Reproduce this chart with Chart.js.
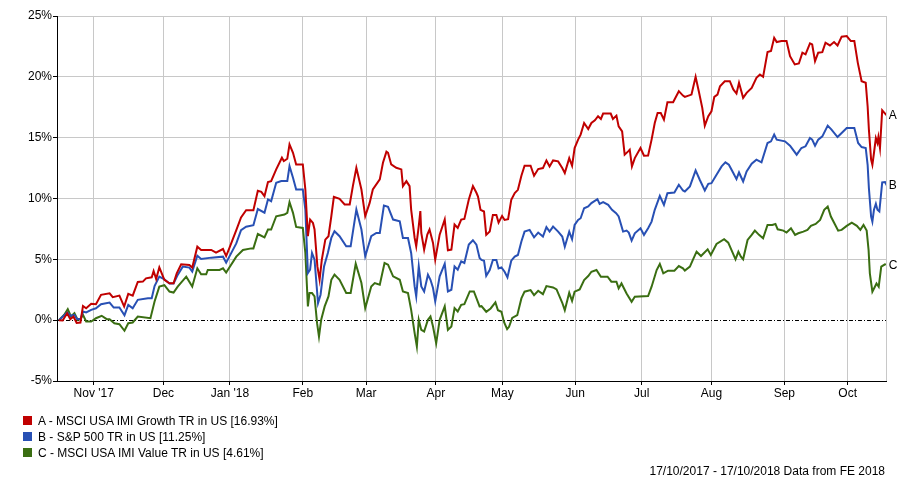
<!DOCTYPE html>
<html>
<head>
<meta charset="utf-8">
<script src="https://cdn.jsdelivr.net/npm/chart.js@4.4.1/dist/chart.umd.min.js"></script>
<style>
  body { margin: 0; background: #fff; }
  #wrap { position: relative; width: 903px; height: 484px; font-family: "Liberation Sans", Arial, sans-serif; font-size: 12px; color: #000; }
  #chart { position: absolute; left: 0; top: 0; }
  .sw { position: absolute; left: 23px; width: 9px; height: 9px; }
  .lt { position: absolute; left: 38px; line-height: 14px; white-space: nowrap; }
  #foot { position: absolute; right: 18px; top: 464px; line-height: 14px; white-space: nowrap; }
</style>
</head>
<body>
<div id="wrap">
  <canvas id="chart" width="903" height="484"></canvas>
  <div id="legend"></div>
  <div id="foot">17/10/2017 - 17/10/2018 Data from FE 2018</div>
</div>
<script>
// x = trading day since 17/10/2017, y = cumulative total return in %
const monthDays = [11, 33, 54, 77, 97, 119, 140, 163, 184, 206, 229, 249];
const monthLabels = ["Nov '17", 'Dec', "Jan '18", 'Feb', 'Mar', 'Apr', 'May', 'Jun', 'Jul', 'Aug', 'Sep', 'Oct'];
const yTicks = [-5, 0, 5, 10, 15, 20, 25];

const seriesNames = ['A - MSCI USA IMI Growth TR in US [16.93%]', 'B - S&P 500 TR in US [11.25%]', 'C - MSCI USA IMI Value TR in US [4.61%]'];
const endLetters = ['A', 'B', 'C'];
const seriesColors = ['#c00000', '#2850b4', '#3a6e12'];

const growthDay = [0,1.2,2.6,3.6,4.6,5.6,6.8,7.6,8.6,10.2,
  11.7,13.3,16.0,17.0,19.1,20.6,21.9,23.3,24.9,26.5,
  27.5,29.3,29.9,30.7,31.7,33.3,34.9,36.2,37.2,38.6,
  41.2,42.1,43.7,44.9,48.1,49.6,51.8,52.8,53.9,56.0,
  57.5,59.1,61.4,62.8,63.9,64.9,66.0,67.0,68.6,70.4,
  71.0,72.1,72.8,73.9,74.9,77.0,77.8,78.6,79.3,80.2,
  80.7,81.6,82.3,83.0,84.1,85.1,86.0,86.8,88.6,90.2,
  91.8,92.8,93.9,95.5,96.7,98.1,99.1,101.3,102.3,103.4,
  103.9,104.9,106.5,108.1,108.6,109.7,110.7,111.2,112.3,112.8,
  113.6,114.1,114.4,115.3,116.3,117.0,118.1,118.8,120.2,121.8,
  122.8,123.9,124.9,125.9,127.0,128.0,129.4,130.7,131.8,132.3,
  133.1,134.2,134.9,136.0,137.0,138.1,138.8,139.9,140.7,141.8,
  142.8,143.9,144.9,146.0,147.0,148.9,150.0,151.3,152.8,153.9,
  154.9,156.0,157.6,158.9,159.7,161.1,162.0,162.8,163.9,164.7,
  165.8,167.1,168.1,169.2,170.2,171.1,171.8,174.2,174.9,176.0,
  176.7,177.8,178.6,179.7,180.2,180.9,181.8,183.6,184.7,186.0,
  187.1,188.1,189.0,190.0,191.0,192.1,193.9,195.7,197.0,197.6,
  199.7,201.0,202.0,203.1,203.9,205.0,206.0,206.9,207.9,208.7,
  210.2,211.8,212.9,213.9,214.7,216.0,217.1,218.7,220.2,221.3,
  222.3,223.7,224.8,225.8,226.6,228.1,229.7,230.8,232.3,233.6,
  234.7,235.7,237.1,237.8,238.7,239.7,241.0,242.0,243.4,244.7,
  245.8,247.1,248.7,250.0,251.1,252.2,253.4,254.7,255.3,255.7,
  256.4,256.8,257.3,257.9,258.4,258.7,259.2,259.9,260.8,261];
const growthPct = [0,-0.03,0.57,0.08,0.30,-0.22,-0.19,1.17,0.98,1.34,
  1.31,2.08,2.21,1.89,2.02,1.12,2.16,2.02,3.14,3.17,
  3.44,3.52,4.04,3.39,4.34,3.31,3.03,3.03,3.85,4.59,
  4.54,4.32,6.04,5.77,5.77,5.55,5.85,5.27,5.98,7.40,
  8.44,9.04,9.04,10.63,10.55,10.19,11.35,11.43,12.39,13.35,
  13.08,13.27,14.45,13.76,12.80,12.80,10.74,6.90,8.27,7.99,
  7.45,4.42,3.32,4.97,6.62,6.90,8.54,10.14,9.97,9.51,
  9.51,11.02,12.53,10.74,8.54,9.64,10.74,11.57,12.94,13.85,
  13.76,12.80,12.53,12.39,11.02,11.43,11.02,9.09,6.76,6.07,
  7.72,8.96,7.17,5.80,7.03,7.45,6.35,4.97,7.03,8.27,
  5.74,5.80,7.86,7.58,8.27,8.32,9.92,11.02,10.47,10.16,
  9.07,8.93,7.01,7.28,8.65,8.65,8.02,8.57,8.24,8.30,
  9.89,10.44,10.71,11.87,12.69,12.69,11.87,12.42,12.50,13.13,
  12.64,13.13,13.05,12.50,12.09,13.32,12.69,14.15,14.84,15.25,
  16.21,15.71,16.21,16.43,16.76,16.54,16.98,16.98,16.54,16.81,
  15.93,15.52,13.60,13.87,14.01,12.64,13.32,14.15,13.52,13.54,
  14.84,16.21,17.03,17.03,16.48,17.91,17.91,18.82,18.46,18.35,
  18.54,20.00,18.82,17.45,15.99,16.76,17.17,18.35,18.54,19.23,
  19.64,19.64,18.96,18.63,19.51,18.27,18.68,19.09,19.92,20.19,
  20.00,22.03,22.12,23.21,22.86,22.94,22.94,21.70,21.02,21.10,
  21.98,21.84,22.75,22.66,21.29,21.98,22.03,22.80,22.58,22.86,
  22.58,23.30,23.35,22.94,22.94,21.15,19.64,19.51,17.58,15.66,
  13.19,12.77,13.74,14.97,14.56,15.05,14.15,17.25,16.98,16.93];

const sp500Day = [0,2.6,3.8,4.9,5.7,6.8,7.6,8.6,10.2,11.7,
  13.3,16.0,17.3,19.1,20.7,21.9,23.3,24.9,28.1,29.3,
  30.2,31.7,33.3,34.9,36.2,37.5,39.1,41.2,42.1,43.7,
  44.9,48.1,51.8,52.8,56.0,57.5,59.1,61.4,62.8,64.9,
  66.0,67.0,68.6,70.2,72.1,72.8,73.9,74.9,77.0,77.8,
  78.6,79.3,79.9,80.7,81.8,82.6,83.7,84.9,86.0,87.0,
  88.6,90.7,92.1,93.9,95.5,96.7,98.6,100.2,101.3,102.6,
  103.9,105.5,107.6,108.6,110.2,111.2,112.3,112.8,113.6,114.4,
  115.3,116.5,117.3,118.1,118.8,120.2,121.8,122.8,123.9,124.9,
  125.9,127.0,128.0,129.4,130.7,131.8,132.8,133.4,134.2,134.9,
  136.0,137.0,138.1,138.8,139.7,140.7,141.6,142.8,143.9,144.9,
  146.0,147.0,148.6,150.0,151.3,152.8,153.9,154.9,156.0,157.6,
  158.9,159.7,161.1,162.0,162.8,163.9,164.7,165.8,167.1,168.1,
  170.0,170.7,171.8,173.4,174.6,175.9,176.7,178.1,179.2,179.9,
  180.8,181.8,183.6,184.7,186.0,187.1,188.1,189.7,191.0,192.1,
  194.3,195.7,197.0,197.6,199.2,201.0,202.3,203.9,205.0,206.0,
  207.6,209.2,210.4,211.5,212.9,213.9,214.7,216.0,217.1,218.7,
  220.2,221.8,223.7,224.8,225.8,226.6,229.2,230.8,232.9,234.4,
  235.7,237.1,237.8,238.7,239.7,241.0,242.7,243.9,245.8,247.1,
  248.7,251.1,252.3,253.4,254.7,255.3,255.7,256.4,256.8,257.3,
  257.9,258.4,259.0,259.9,260.8,261];
const sp500Pct = [0,0.63,0.36,0.44,0.11,0.08,0.71,0.63,0.85,0.98,
  1.31,1.45,1.04,1.04,0.41,1.26,0.98,1.67,1.80,1.80,
  2.81,3.58,3.36,3.01,3.01,3.72,4.40,4.32,3.99,5.30,
  5.03,5.14,5.22,4.73,6.31,7.40,7.68,7.81,9.13,8.83,
  9.92,9.78,11.29,11.43,11.43,12.66,11.70,10.74,10.74,9.09,
  3.87,4.15,5.52,4.97,1.40,2.09,4.42,5.52,6.76,7.31,
  6.90,6.07,6.07,9.09,7.45,5.25,6.90,7.17,7.17,9.42,
  9.31,8.27,8.13,6.76,6.76,5.52,2.77,1.95,4.42,2.77,
  2.36,3.74,3.32,2.64,1.54,3.60,4.64,2.36,2.50,4.42,
  4.15,4.84,4.70,6.21,6.57,6.21,5.11,4.95,4.89,3.65,
  4.12,4.95,4.95,4.26,4.34,3.98,3.52,4.89,5.22,5.36,
  6.46,7.28,7.42,6.81,7.20,6.87,7.64,7.28,7.69,7.28,
  6.87,6.04,7.28,6.65,7.83,8.24,8.38,9.20,9.34,9.62,
  9.95,9.56,9.70,9.48,9.07,8.79,8.52,7.28,7.36,7.20,
  6.54,7.14,7.55,7.01,7.55,8.10,9.07,10.22,9.48,10.44,
  10.49,11.13,10.66,10.58,10.99,12.31,11.54,10.66,11.21,11.26,
  11.95,12.64,12.97,12.77,12.09,11.59,12.14,11.40,12.23,12.86,
  13.19,12.97,14.56,14.70,15.25,14.84,14.70,14.34,13.60,14.15,
  14.29,14.97,14.84,14.34,14.84,15.11,15.99,15.66,15.05,15.38,
  15.80,15.80,14.56,14.23,14.15,12.77,10.85,8.52,8.10,9.07,
  9.56,9.07,8.93,11.32,11.35,11.25];

const valueDay = [0,1.7,2.8,3.8,4.9,5.9,6.8,7.6,8.6,10.2,
  11.7,13.5,15.1,16.0,17.5,19.1,20.7,21.9,23.3,24.9,
  28.9,30.2,31.7,33.3,34.9,36.2,37.5,40.2,42.1,43.7,
  44.9,46.5,47.0,50.7,51.8,52.8,56.0,58.1,60.7,61.4,
  62.8,64.9,66.0,67.0,68.6,71.2,72.1,72.8,73.9,74.9,
  77.0,77.8,78.6,79.1,79.9,80.7,81.5,82.1,82.8,83.9,
  85.1,86.0,87.0,88.6,90.7,92.1,93.7,95.5,96.7,98.6,
  99.7,101.3,102.8,103.9,105.5,107.6,108.6,110.2,111.2,112.3,
  113.0,113.6,114.4,115.3,116.5,117.3,118.1,119.1,120.2,121.8,
  122.8,123.9,124.9,125.9,127.0,128.0,129.7,131.0,132.8,133.4,
  134.9,136.3,137.8,138.6,139.7,140.5,141.5,142.1,143.1,144.7,
  146.0,147.0,148.9,150.0,151.3,152.8,153.9,156.0,157.1,158.9,
  159.7,161.1,162.0,162.8,164.4,165.8,167.1,168.1,169.7,171.1,
  173.2,174.4,176.0,176.7,177.6,179.2,180.8,181.8,186.0,187.1,
  188.7,189.7,190.8,192.3,194.3,195.7,197.0,197.6,199.2,200.2,
  201.3,202.7,204.8,205.8,207.6,210.0,211.3,212.3,213.6,214.5,
  215.3,216.0,217.4,218.7,219.7,221.0,222.3,223.7,225.2,226.2,
  226.9,228.7,229.7,231.1,232.4,233.4,235.0,236.3,237.4,238.9,
  240.3,241.6,242.7,243.7,244.8,246.0,247.1,248.7,250.3,251.9,
  253.0,254.0,255.0,255.6,256.0,256.8,257.6,258.1,258.8,259.6,
  260.8,261];
const valuePct = [0,0.44,0.90,0.30,0.57,0.03,0.08,0.44,-0.11,-0.11,
  0.16,0.36,0.08,0.08,-0.25,-0.33,-0.87,-0.25,-0.19,0.30,
  0.16,1.53,2.76,2.87,2.35,2.27,2.76,3.58,2.76,4.26,
  3.77,3.77,4.13,4.13,4.26,3.91,5.22,5.77,5.90,5.90,
  7.08,6.80,7.45,7.45,8.54,8.68,8.82,9.70,8.82,7.66,
  7.58,5.52,1.13,2.23,2.23,1.95,-0.25,-1.35,0.03,1.13,
  1.95,3.32,3.74,3.32,2.23,2.23,4.64,3.05,0.99,2.77,
  3.05,2.91,4.70,4.56,3.60,3.32,2.36,2.23,0.85,-1.07,
  -2.17,0.03,-0.80,-0.93,0.03,0.30,-0.52,-1.90,0.03,1.13,
  -0.80,-0.52,0.99,0.71,1.26,1.32,2.36,2.36,1.13,1.15,
  0.69,0.96,1.46,0.82,0.69,-0.14,-0.74,-0.55,0.19,0.41,
  1.79,2.34,2.47,2.06,2.42,2.14,2.80,2.69,2.53,1.43,
  0.82,2.25,1.59,2.34,2.53,3.30,3.63,3.98,4.12,3.57,
  3.57,3.16,3.16,2.61,3.02,2.20,1.51,1.92,1.98,2.75,
  4.12,4.62,3.85,4.07,4.07,4.45,4.26,4.07,4.40,5.00,
  5.63,5.27,5.82,5.36,6.26,6.65,6.37,5.77,5.00,5.63,
  5.22,5.00,6.59,7.01,7.36,7.01,6.73,7.83,7.83,7.91,
  7.47,7.36,7.20,7.55,7.01,7.14,7.28,7.42,7.75,7.91,
  8.24,9.07,9.34,8.52,7.97,7.36,7.42,7.75,8.02,7.75,
  7.42,7.83,7.36,5.77,3.85,2.34,2.75,3.02,2.75,4.40,
  4.59,4.61];

function toPoints(days, pct) {
  return days.map((d, i) => ({ x: d, y: pct[i] }));
}

const seriesData = [toPoints(growthDay, growthPct), toPoints(sp500Day, sp500Pct), toPoints(valueDay, valuePct)];

// legend rows under the plot
const legend = document.getElementById('legend');
seriesNames.forEach((name, i) => {
  const top = 414 + i * 16;
  legend.insertAdjacentHTML('beforeend',
    `<div class="sw" style="top:${top + 2}px;background:${seriesColors[i]}"></div>` +
    `<div class="lt" style="top:${top}px"></div>`);
  legend.lastChild.textContent = name;
});

Chart.defaults.font.family = '"Liberation Sans", Arial, sans-serif';
Chart.defaults.font.size = 12;
Chart.defaults.color = '#000';

const gridGrey = '#c8c8c8';

// zero line, right frame edge and the end letters
const extras = {
  id: 'extras',
  beforeDatasetsDraw(chart) {
    const { ctx, chartArea: area, scales } = chart;
    const zy = Math.round(scales.y.getPixelForValue(0)) + 0.5;
    const rx = Math.round(area.right) + 0.5;
    ctx.save();
    ctx.lineWidth = 1;
    ctx.strokeStyle = gridGrey;
    ctx.beginPath();
    ctx.moveTo(rx, area.top);
    ctx.lineTo(rx, area.bottom);
    ctx.stroke();
    ctx.strokeStyle = '#000';
    ctx.setLineDash([4, 2, 1, 2]);
    ctx.beginPath();
    ctx.moveTo(area.left, zy);
    ctx.lineTo(area.right, zy);
    ctx.stroke();
    ctx.restore();
  },
  afterDatasetsDraw(chart) {
    const ctx = chart.ctx;
    ctx.save();
    ctx.font = '12px "Liberation Sans", Arial, sans-serif';
    ctx.fillStyle = '#000';
    ctx.textBaseline = 'middle';
    ctx.textAlign = 'left';
    chart.data.datasets.forEach((ds, i) => {
      const pts = chart.getDatasetMeta(i).data;
      const last = pts[pts.length - 1];
      ctx.fillText(endLetters[i], last.x + 3, last.y + 2);
    });
    ctx.restore();
  }
};

new Chart(document.getElementById('chart'), {
  type: 'line',
  data: {
    datasets: seriesData.map((pts, i) => ({
      label: seriesNames[i],
      data: pts,
      borderColor: seriesColors[i],
      backgroundColor: seriesColors[i],
      borderWidth: 2,
      pointRadius: 0,
      tension: 0,
      fill: false
    }))
  },
  options: {
    responsive: false,
    animation: false,
    devicePixelRatio: 1,
    layout: { padding: { left: 0, right: 17, top: 16, bottom: 83 } },
    plugins: { legend: { display: false }, tooltip: { enabled: false } },
    scales: {
      x: {
        type: 'linear',
        min: -0.6,
        max: 261.1,
        afterBuildTicks: (s) => { s.ticks = monthDays.map(v => ({ value: v })); },
        afterFit: (s) => { s.height = 20; },
        ticks: {
          autoSkip: false,
          maxRotation: 0,
          padding: 1,
          callback: (v, i) => monthLabels[i]
        },
        grid: { color: gridGrey, tickColor: '#000', tickLength: 4 },
        border: { color: '#000' }
      },
      y: {
        min: -5,
        max: 25,
        afterBuildTicks: (s) => { s.ticks = yTicks.map(v => ({ value: v })); },
        afterFit: (s) => { s.width = 57; },
        ticks: { padding: 1, callback: (v) => v + '%' },
        grid: {
          color: (c) => (c.tick && c.tick.value === 0 ? 'rgba(0,0,0,0)' : gridGrey),
          tickColor: '#000',
          tickLength: 4
        },
        border: { color: '#000' }
      }
    }
  },
  plugins: [extras]
});
</script>
</body>
</html>
